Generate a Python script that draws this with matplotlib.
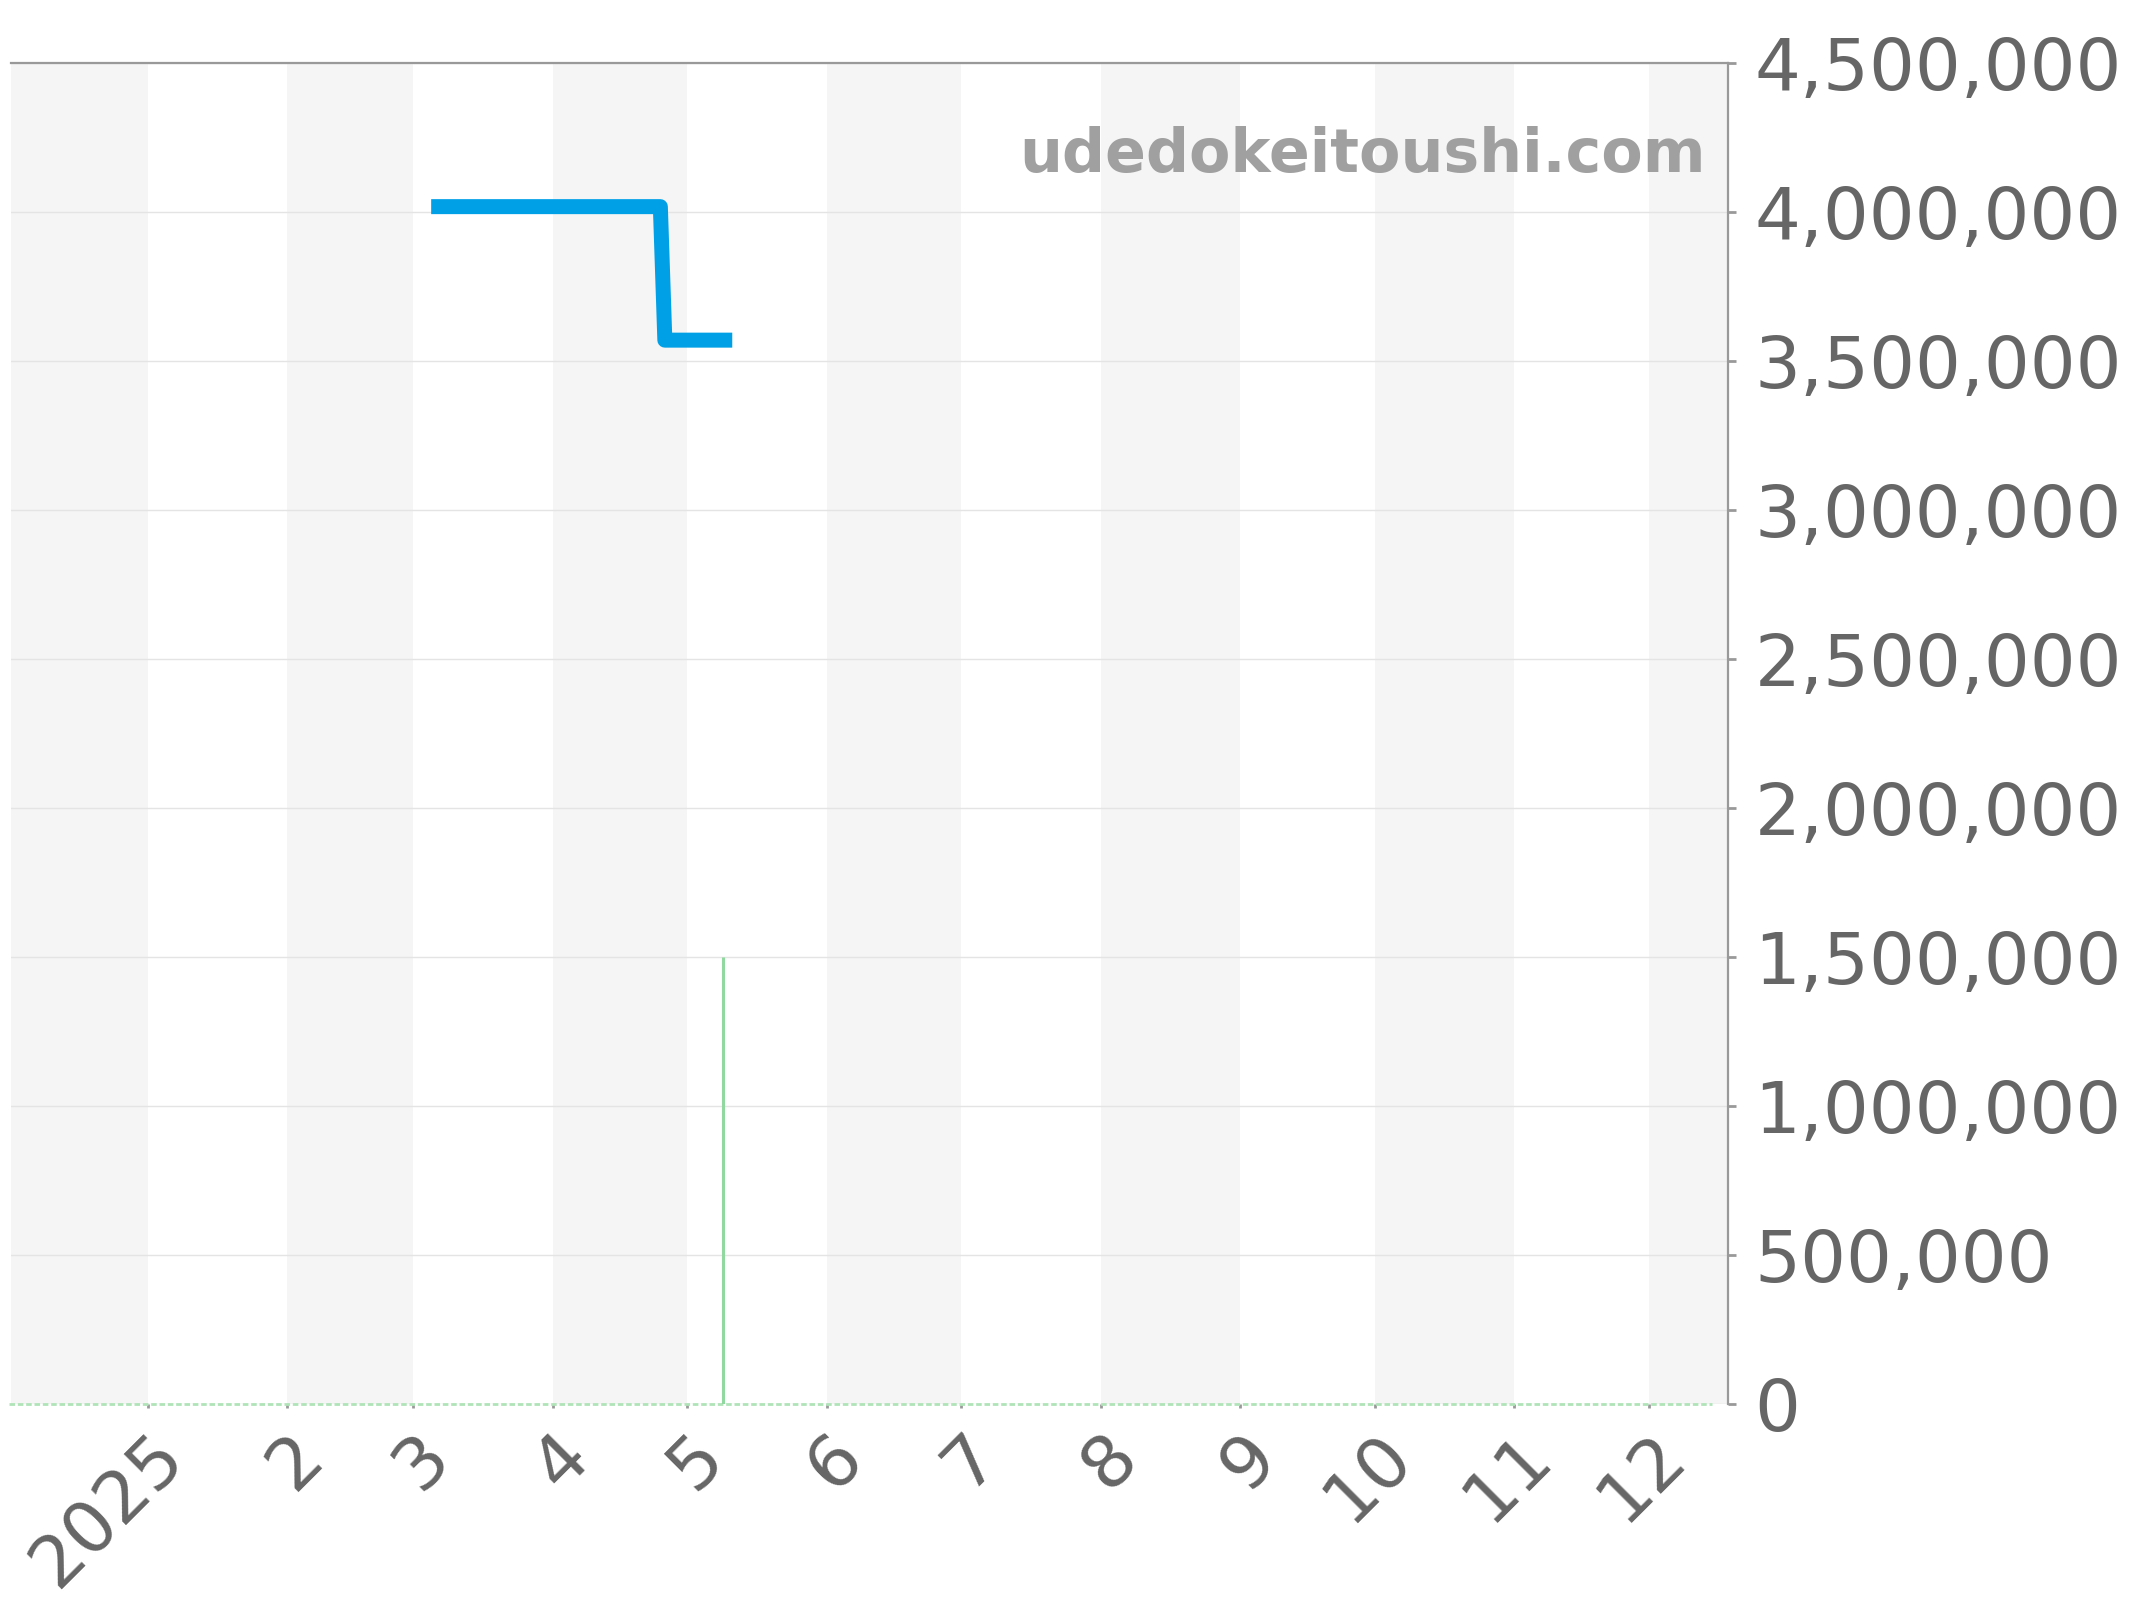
import matplotlib
matplotlib.use("Agg")
import matplotlib.pyplot as plt
import matplotlib.transforms as mtransforms
import numpy as np
from matplotlib.ticker import FuncFormatter, FixedLocator

# Price series (step-like line)
price_dates = np.array(['2025-03-05', '2025-04-25', '2025-04-26', '2025-05-11'], dtype='datetime64[D]')
price_values = [4018000, 4018000, 3570000, 3570000]

# Volume-like marker (green vertical bar)
bar_dates = np.array(['2025-05-09'], dtype='datetime64[D]')
bar_values = [1500000]

# Zero baseline series
base_dates = np.array(['2024-12-01', '2025-12-15'], dtype='datetime64[D]')
base_values = [0, 0]

# Month ticks and labels
tick_dates = np.array(['2025-%02d-01' % m for m in range(1, 13)], dtype='datetime64[D]')
tick_labels = ['2025'] + [str(m) for m in range(2, 13)]
y_ticks = [0, 500000, 1000000, 1500000, 2000000, 2500000, 3000000, 3500000, 4000000, 4500000]

# Shaded month bands
band_starts = np.array(['2024-11-01', '2025-02-01', '2025-04-01', '2025-06-01',
                        '2025-08-01', '2025-10-01', '2025-12-01'], dtype='datetime64[D]')
band_ends = np.array(['2025-01-01', '2025-03-01', '2025-05-01', '2025-07-01',
                      '2025-09-01', '2025-11-01', '2026-01-01'], dtype='datetime64[D]')

label_color = '#666666'

fig = plt.figure(figsize=(10.72, 8), dpi=200)
ax = fig.add_axes([11 / 2144, 1 - 1404 / 1600, (1728 - 11) / 2144, (1404 - 63) / 1600])

for s, e in zip(band_starts, band_ends):
    ax.axvspan(s, e, color='#f5f5f5', lw=0, zorder=0)

ax.set_xlim(np.datetime64('2024-12-01T12:00'), np.datetime64('2025-12-18T14:00'))
ax.set_ylim(0, 4500000)

ax.yaxis.tick_right()
ax.yaxis.set_major_locator(FixedLocator(y_ticks))
ax.yaxis.set_major_formatter(FuncFormatter(lambda v, pos: '{:,.0f}'.format(v)))
ax.grid(axis='y', color='#e4e4e4', lw=0.5, zorder=1)

ax.set_xticks(tick_dates)
ax.set_xticklabels(tick_labels, rotation=45, ha='right', va='center', rotation_mode='anchor')
ax.tick_params(axis='x', length=1.5, width=1, color='#999999', pad=13.5,
               labelsize=26, labelcolor=label_color)
ax.tick_params(axis='y', length=2.9, width=1, color='#999999', pad=6.6,
               labelsize=26, labelcolor=label_color)
offset = mtransforms.ScaledTranslation(9.2 / 72, 0, fig.dpi_scale_trans)
for lbl in ax.get_xticklabels():
    lbl.set_transform(lbl.get_transform() + offset)

for side in ['left', 'bottom']:
    ax.spines[side].set_visible(False)
for side in ['top', 'right']:
    ax.spines[side].set_color('#999999')
    ax.spines[side].set_linewidth(0.8)

ax.plot(base_dates, base_values, color='#b0e4b8', lw=1.0, ls=(0, (2, 1)), zorder=2, clip_on=False)
ax.vlines(bar_dates, 0, bar_values, color='#90d8a0', lw=1.1, zorder=3)
ax.plot(price_dates, price_values, color='#00a0e6', lw=5.4,
        solid_joinstyle='round', solid_capstyle='butt', zorder=4)

ax.text(0.987, 0.919, 'udedokeitoushi.com', transform=ax.transAxes, ha='right', va='baseline',
        fontsize=21.7, fontweight='bold', color='#a0a0a0', zorder=5)

fig.savefig('out.png', dpi=200)
